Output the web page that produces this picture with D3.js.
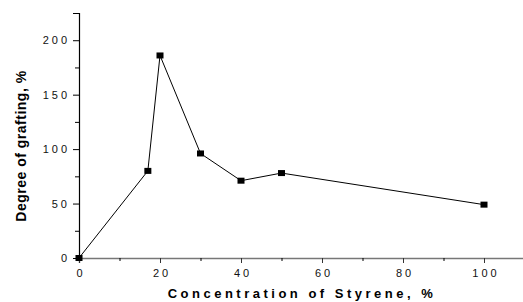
<!DOCTYPE html>
<html>
<head>
<meta charset="utf-8">
<script src="https://cdn.jsdelivr.net/npm/d3@7"></script>
<style>
  body { margin: 0; background: #fff; }
  text { font-family: Arial, "Liberation Sans", sans-serif; }
</style>
</head>
<body>
<div id="chart"></div>
<script>
// Styrene concentration (%) vs degree of grafting (%)
const concentration = [0, 17, 20, 30, 40, 50, 100];
const grafting = [0, 80, 186, 96, 71, 78, 49];
const xTicks = [0, 20, 40, 60, 80, 100];
const yTicks = [0, 50, 100, 150, 200];

const W = 523, H = 302;
const margin = { top: 13, right: 0, bottom: 44, left: 79 };

const svg = d3.select("#chart").append("svg")
  .attr("width", W).attr("height", H);

const x = d3.scaleLinear().domain([0, 110]).range([margin.left, margin.left + 445.5]);
const y = d3.scaleLinear().domain([0, 225]).range([H - margin.bottom, margin.top]);

// minor ticks
const xMinor = d3.range(10, 110, 20);
const yMinor = d3.range(25, 225, 50);

const xAxis = svg.append("g")
  .attr("transform", `translate(0,${y(0)})`)
  .call(d3.axisBottom(x).tickValues(xTicks).tickSize(5).tickPadding(6).tickFormat(d3.format("d")));
xAxis.select(".domain").attr("stroke", "#777").attr("stroke-width", 1.5);
xAxis.selectAll(".tick line").attr("stroke", "#333");
xAxis.selectAll(".tick text").attr("dx", 1.5);

svg.append("g")
  .attr("transform", `translate(0,${y(0)})`)
  .call(d3.axisBottom(x).tickValues(xMinor).tickSize(3).tickFormat(""))
  .call(g => g.select(".domain").remove());

const yAxis = svg.append("g")
  .attr("transform", `translate(${x(0)},0)`)
  .call(d3.axisLeft(y).tickValues(yTicks).tickSize(6).tickPadding(3).tickFormat(d3.format("d")));
yAxis.select(".domain").attr("stroke", "#000").attr("stroke-width", 1.2);

svg.append("g")
  .attr("transform", `translate(${x(0)},0)`)
  .call(d3.axisLeft(y).tickValues(yMinor).tickSize(4).tickFormat(""))
  .call(g => g.select(".domain").remove());

svg.selectAll(".tick text")
  .attr("font-size", 11)
  .attr("letter-spacing", 3)
  .attr("fill", "#111");

// data line
const pts = concentration.map((c, i) => [c, grafting[i]]);
svg.append("path")
  .datum(pts)
  .attr("fill", "none")
  .attr("stroke", "#000")
  .attr("stroke-width", 1)
  .attr("d", d3.line().x(d => x(d[0])).y(d => y(d[1])));

svg.selectAll(".pt")
  .data(pts)
  .enter().append("rect")
  .attr("class", "pt")
  .attr("x", d => x(d[0]) - 3.5)
  .attr("y", d => y(d[1]) - 3)
  .attr("width", 7)
  .attr("height", 6)
  .attr("fill", "#000");

// axis titles
svg.append("text")
  .attr("x", 302).attr("y", 298)
  .attr("text-anchor", "middle")
  .attr("font-size", 13)
  .attr("font-weight", "bold")
  .attr("letter-spacing", 3.5)
  .text("Concentration of Styrene, %");

svg.append("text")
  .attr("transform", "translate(26,146) rotate(-90)")
  .attr("text-anchor", "middle")
  .attr("font-size", 14)
  .attr("font-weight", "bold")
  .attr("letter-spacing", 0.5)
  .text("Degree of grafting, %");
</script>
</body>
</html>
